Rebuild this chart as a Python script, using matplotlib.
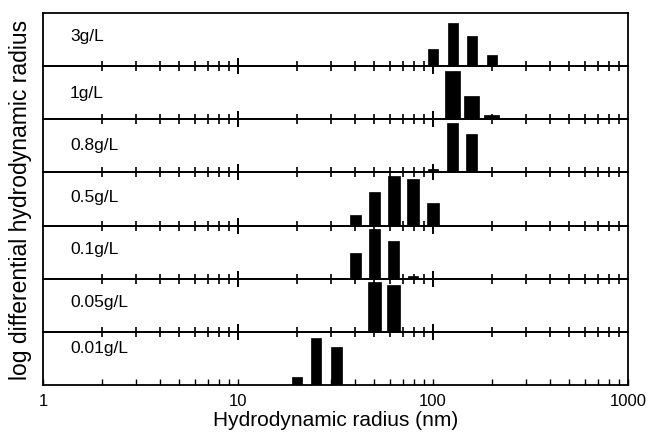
import numpy as np
import matplotlib
matplotlib.use("Agg")
import matplotlib.pyplot as plt
from matplotlib.ticker import LogLocator, NullFormatter, FixedFormatter, FixedLocator

plt.rcParams['font.family'] = ['Liberation Sans', 'DejaVu Sans']

# concentrations, top to bottom
concs = ["3g/L", "1g/L", "0.8g/L", "0.5g/L", "0.1g/L", "0.05g/L", "0.01g/L"]

# radius bins (nm) and log-differential heights for each concentration
r_3 = [100, 126, 158, 200]
h_3 = [17, 43, 30, 11]
r_1 = [126, 158, 200]
h_1 = [48, 23, 4]
r_08 = [100, 126, 158]
h_08 = [3, 49, 38]
r_05 = [40, 50, 63, 79, 100]
h_05 = [10.7, 33.3, 49.3, 46.7, 22.3]
r_01 = [40, 50, 63, 79]
h_01 = [25.7, 49.3, 37.7, 2.7]
r_005 = [50, 63]
h_005 = [49.3, 46.7]
r_001 = [20, 25, 32]
h_001 = [8.3, 47.3, 37.7]

radii = [r_3, r_1, r_08, r_05, r_01, r_005, r_001]
heights = [h_3, h_1, h_08, h_05, h_01, h_005, h_001]

xtick_vals = [1, 10, 100, 1000]
xtick_labels = ["1", "10", "100", "1000"]

# bar widths in decades and label heights (axes fraction) per panel
bar_w = [0.052, 0.078, 0.056, 0.059, 0.056, 0.066, 0.052]
lab_y = [0.57, 0.51, 0.53, 0.55, 0.57, 0.57, 0.70]

fig, axes = plt.subplots(7, 1, sharex=False, figsize=(6.49, 4.35), dpi=100)
fig.subplots_adjust(left=43/649, right=628/649, top=1-14/435, bottom=1-386/435, hspace=0)

for i, ax in enumerate(axes):
    ax.patch.set_visible(False)   # let the crossing ticks show on the panel below
    r = np.array(radii[i], dtype=float)
    w = bar_w[i]
    left = r * 10**(-w/2)
    ax.bar(left, heights[i], width=r * (10**(w/2) - 10**(-w/2)), align='edge',
           color='black', edgecolor='black', linewidth=0.5)
    ax.set_xscale('log')
    ax.set_xlim(1, 1000)
    ax.set_ylim(0, 53)
    ax.set_yticks([])
    ax.text(0.046, lab_y[i], concs[i], transform=ax.transAxes, fontsize=12.5,
            ha='left', va='center')
    for s in ax.spines.values():
        s.set_linewidth(1.3)
    ax.xaxis.set_minor_locator(LogLocator(base=10, subs=np.arange(2, 10)))
    ax.xaxis.set_minor_formatter(NullFormatter())
    if i < len(axes) - 1:
        ax.xaxis.set_major_locator(FixedLocator(xtick_vals[1:-1]))
        ax.tick_params(axis='x', which='major', direction='inout', length=11,
                       width=1.4, labelbottom=False)
        ax.tick_params(axis='x', which='minor', direction='inout', length=6.5,
                       width=1.2)
    else:
        ax.xaxis.set_major_locator(FixedLocator(xtick_vals))
        ax.xaxis.set_major_formatter(FixedFormatter(xtick_labels))
        ax.tick_params(axis='x', which='major', direction='in', length=4,
                       width=1.0, labelsize=12, pad=6)
        ax.tick_params(axis='x', which='minor', direction='in', length=4,
                       width=1.0)

axes[-1].set_xlabel("Hydrodynamic radius (nm)", fontsize=15, labelpad=1)
fig.text(21/649, (1 - 14/435 + 1 - 386/435) / 2, "log differential hydrodynamic radius",
         rotation=90, ha='center', va='center', fontsize=16.5)

fig.savefig("out.png", dpi=100)
